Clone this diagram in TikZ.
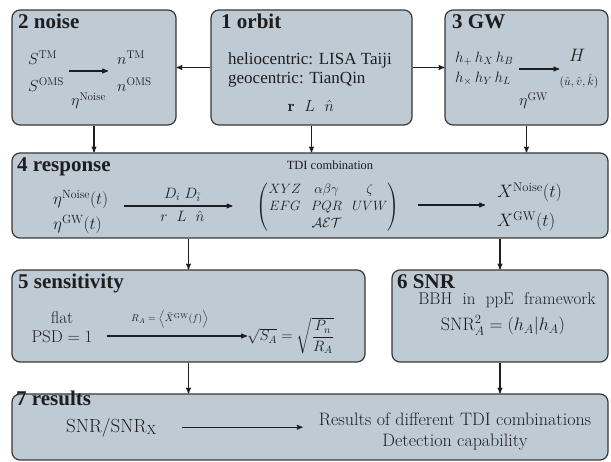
\RequirePackage{fix-cm}
\documentclass[tikz,border=0pt]{standalone}
\usepackage{amsmath}
\usepackage{amssymb}
\usepackage{fontspec}
\newfontfamily\tms{Liberation Serif}
\usepackage{tikz}
\usetikzlibrary{arrows}

\definecolor{boxfill}{RGB}{190,203,213}
\definecolor{boxline}{RGB}{55,55,55}
\definecolor{ink}{RGB}{30,30,30}

\begin{document}
\begin{tikzpicture}[x=1pt,y=-1pt,
  box/.style={draw=boxline,fill=boxfill,line width=1.2pt,rounded corners=8pt,inner sep=0pt},
  ttl/.style={anchor=base west,inner sep=0pt,text=ink,font=\tms\bfseries\fontsize{21}{21}\selectfont},
  txt/.style={inner sep=0pt,text=ink},
  arr/.style={-stealth',line width=1.1pt,draw=ink}]
\useasboundingbox (0,0) rectangle (611,462);

% boxes
\node[box,minimum width=164pt,minimum height=115pt] (noise) at (94,67.5) {};
\node[box,minimum width=201pt,minimum height=115pt] (orbit) at (311.5,67.5) {};
\node[box,minimum width=163pt,minimum height=115pt] (gw) at (526.5,67.5) {};
\node[box,minimum width=596pt,minimum height=85pt] (resp) at (310,195.5) {};
\node[box,minimum width=353pt,minimum height=92pt] (sens) at (188.5,316) {};
\node[box,minimum width=216pt,minimum height=92pt] (snr) at (500,316) {};
\node[box,minimum width=596pt,minimum height=66pt] (res) at (310,427) {};

% titles
\node[ttl] (tnoise) at (18,29) {2 noise};
\node[ttl] (torbit) at (221,29) {1 orbit};
\node[ttl] (tgw) at (452,29) {3 GW};
\node[ttl] (tresp) at (17,172) {4 response};
\node[ttl] (tsens) at (18,289) {5 sensitivity};
\node[ttl] (tsnr) at (397,289) {6 SNR};
\node[ttl] (tres) at (16,406) {7 results};

% 2 noise
\node[txt,anchor=west,align=left,font=\fontsize{16}{27}\selectfont] (nsrc) at (28,71)
  {$S^{\mathrm{TM}}$\\$S^{\mathrm{OMS}}$};
\node[txt,anchor=west,align=left,font=\fontsize{16}{27}\selectfont] (nout) at (117,71)
  {$n^{\mathrm{TM}}$\\$n^{\mathrm{OMS}}$};
\node[txt,anchor=base west,font=\fontsize{16}{16}\selectfont] (neta) at (71,106) {$\eta^{\mathrm{Noise}}$};
\draw[arr,shorten <=5pt,shorten >=9pt] (nsrc.east) -- (nout.west);

% 1 orbit
\node[txt,anchor=west,align=left,font=\tms\fontsize{17}{19}\selectfont] (otxt) at (228,70)
  {heliocentric: LISA Taiji\\geocentric: TianQin};
\node[txt,anchor=base,font=\fontsize{16}{16}\selectfont] (ovec) at (311,112) {$\mathbf{r}\ \ L\ \ \hat{n}$};

% 3 GW
\node[txt,anchor=west,align=left,font=\fontsize{15}{20}\selectfont] (ghs) at (455,69)
  {$h_+\,h_X\,h_B$\\$h_\times\,h_Y\,h_L$};
\node[txt,anchor=base,font=\fontsize{18}{18}\selectfont] (gH) at (577,62) {$H$};
\node[txt,anchor=base,font=\fontsize{12}{12}\selectfont] (guvk) at (579,86) {$(\hat{u},\hat{v},\hat{k})$};
\node[txt,anchor=base west,font=\fontsize{16}{16}\selectfont] (geta) at (519,106) {$\eta^{\mathrm{GW}}$};
\draw[arr,shorten <=6pt] (ghs.east) -- (ghs.east -| guvk.west);

% 4 response
\node[txt,anchor=west,align=left,font=\fontsize{17}{25}\selectfont] (reta) at (53,212)
  {$\eta^{\mathrm{Noise}}(t)$\\$\eta^{\mathrm{GW}}(t)$};
\node[txt,anchor=base,font=\tms\fontsize{12.5}{12.5}\selectfont] (tdilbl) at (330,170) {TDI combination};
\node[txt,font=\fontsize{13.5}{15}\selectfont] (tdi) at (328,207)
  {$\renewcommand{\arraystretch}{1.15}\begin{pmatrix}
    XYZ & \alpha\beta\gamma & \zeta\\
    EFG & PQR & UVW\\
    & \mathcal{AET} &
  \end{pmatrix}$};
\node[txt,anchor=west,align=left,font=\fontsize{18}{29}\selectfont] (xout) at (497,207)
  {$X^{\mathrm{Noise}}(t)$\\$X^{\mathrm{GW}}(t)$};
\draw[arr,shorten <=16pt,shorten >=24pt] ([yshift=6pt]reta.east) -- ([yshift=6pt]reta.east -| tdi.west)
  node[midway,above=4pt,txt,font=\fontsize{15}{15}\selectfont] (rdd) {$D_i\;D_{\bar{i}}$}
  node[midway,below=5pt,txt,font=\fontsize{15}{15}\selectfont] (rrl) {$r\ \ L\ \ \hat{n}$};
\draw[arr,shorten <=18pt,shorten >=12pt] ([yshift=2pt]tdi.east) -- ([yshift=2pt]tdi.east -| xout.west);

% 5 sensitivity
\node[txt,align=center,font=\fontsize{17}{19}\selectfont] (flat) at (62,327) {flat\\$\mathrm{PSD}=1$};
\node[txt,anchor=west,font=\fontsize{15}{15}\selectfont] (sqs) at (247,336)
  {$\sqrt{S_A}=\sqrt{\dfrac{P_n}{R_A}}$};
\draw[arr,shorten <=14pt] (flat.east |- sqs.west) -- (sqs.west)
  node[midway,above=7pt,txt,font=\fontsize{10}{10}\selectfont] (rax)
  {$R_A=\left\langle\tilde{X}^{\mathrm{GW}}(f)\right\rangle$};

% 6 SNR
\node[txt,anchor=base,font=\fontsize{17}{17}\selectfont] (bbh) at (507,305) {BBH\ \ in\ \ ppE\ \ framework};
\node[txt,anchor=base,font=\fontsize{18}{18}\selectfont] (snra) at (503,331) {$\mathrm{SNR}_A^2=(h_A|h_A)$};

% 7 results
\node[txt,anchor=base west,font=\fontsize{19}{19}\selectfont] (ratio) at (66,432) {$\mathrm{SNR}/\mathrm{SNR}_{\mathrm{X}}$};
\node[txt,align=center,font=\fontsize{18}{21}\selectfont] (rtxt) at (455,432)
  {Results of different TDI combinations\\Detection capability};
\draw[arr,shorten <=25pt,shorten >=16pt] (ratio.east) -- (ratio.east -| rtxt.west);

% flow between boxes
\draw[arr] (orbit.west) -- (noise.east);
\draw[arr] (orbit.east) -- (gw.west);
\draw[arr] (noise.south) -- (noise.south |- resp.north);
\draw[arr] (orbit.south) -- (orbit.south |- resp.north);
\draw[arr] (gw.south) -- (gw.south |- resp.north);
\draw[arr] (resp.south -| sens.north) -- (sens.north);
\draw[arr] (resp.south -| snr.north) -- (snr.north);
\draw[arr] (sens.south) -- (sens.south |- res.north);
\draw[arr] (snr.south) -- (snr.south |- res.north);
\end{tikzpicture}
\end{document}
